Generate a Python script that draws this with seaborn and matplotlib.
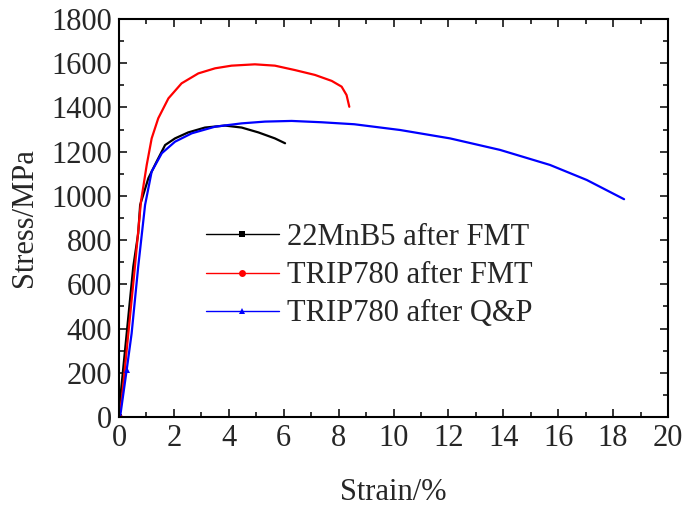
import matplotlib
matplotlib.use("Agg")
import matplotlib.pyplot as plt
import seaborn as sns
import pandas as pd
from matplotlib.lines import Line2D
from matplotlib.ticker import MultipleLocator

# Data
labels = ["22MnB5 after FMT", "TRIP780 after FMT", "TRIP780 after Q&P"]
colors = ["black", "red", "blue"]
markers = ["s", "o", "^"]

strain_22mnb5 = [0, 0.04, 0.28, 0.52, 0.70, 0.77, 1.07, 1.37, 1.68, 2.04, 2.52, 3.13, 3.86, 4.47, 5.08, 5.68, 6.05]
stress_22mnb5 = [0, 77, 378, 680, 831, 959, 1080, 1155, 1230, 1260, 1287, 1309, 1318, 1309, 1287, 1260, 1238]

strain_trip_fmt = [0, 0.10, 0.34, 0.58, 0.80, 1.01, 1.19, 1.43, 1.80, 2.28, 2.89, 3.50, 4.10, 4.95, 5.68, 6.41, 7.14, 7.75, 8.11, 8.29, 8.39]
stress_trip_fmt = [0, 77, 378, 680, 974, 1140, 1260, 1351, 1441, 1509, 1554, 1577, 1589, 1595, 1589, 1569, 1547, 1520, 1494, 1456, 1403]

strain_trip_qp = [0, 0.04, 0.28, 0.46, 0.70, 0.95, 1.19, 1.56, 2.04, 2.65, 3.50, 4.47, 5.32, 6.29, 7.38, 8.57, 10.24, 12.06, 13.88, 15.70, 17.04, 18.40]
stress_trip_qp = [0, 0, 213, 378, 680, 959, 1110, 1193, 1245, 1283, 1313, 1328, 1336, 1339, 1333, 1324, 1298, 1260, 1208, 1140, 1072, 985]

series = [(strain_22mnb5, stress_22mnb5), (strain_trip_fmt, stress_trip_fmt), (strain_trip_qp, stress_trip_qp)]
mark_idx = [[0], [0], [2]]

sns.set_style("ticks")
plt.rcParams["font.family"] = ["Liberation Serif", "DejaVu Serif"]
plt.rcParams["mathtext.fontset"] = "stix"

fig = plt.figure(figsize=(6.85, 5.13), dpi=100)
ax = fig.add_axes([119 / 685, 1 - 417 / 513, 549 / 685, 398 / 513])

for (xs, ys), lab, c, m, mi in zip(series, labels, colors, markers, mark_idx):
    df = pd.DataFrame({"x": xs, "y": ys})
    sns.lineplot(data=df, x="x", y="y", ax=ax, color=c, sort=False, estimator=None,
                 lw=1.6, marker=m, markersize=5, markevery=mi, markeredgewidth=0, legend=False)

ax.set_xlim(0, 20)
ax.set_ylim(0, 1800)
ax.xaxis.set_major_locator(MultipleLocator(2))
ax.xaxis.set_minor_locator(MultipleLocator(1))
ax.yaxis.set_major_locator(MultipleLocator(200))
ax.yaxis.set_minor_locator(MultipleLocator(100))

ax.tick_params(which="both", direction="in", top=True, right=True, width=1.3, labelsize=22, pad=5)
ax.tick_params(which="major", length=6)
ax.tick_params(which="minor", length=3.5)
for s in ax.spines.values():
    s.set_linewidth(1.5)
    s.set_color("black")

ax.set_xlabel("Strain/%", fontsize=22, labelpad=18)
ax.set_ylabel("Stress/MPa", fontsize=22, labelpad=9)

handles = [Line2D([0], [0], color=c, lw=1.0, marker=m, markersize=5, markeredgewidth=0)
           for c, m in zip(colors, markers)]
ax.legend(handles, labels, loc="center left", bbox_to_anchor=(0.158, 0.355), frameon=False,
          fontsize=22, handlelength=2.4, handletextpad=0.25, labelspacing=0.3,
          borderpad=0, borderaxespad=0, numpoints=1)

fig.savefig("out.png", dpi=100)
